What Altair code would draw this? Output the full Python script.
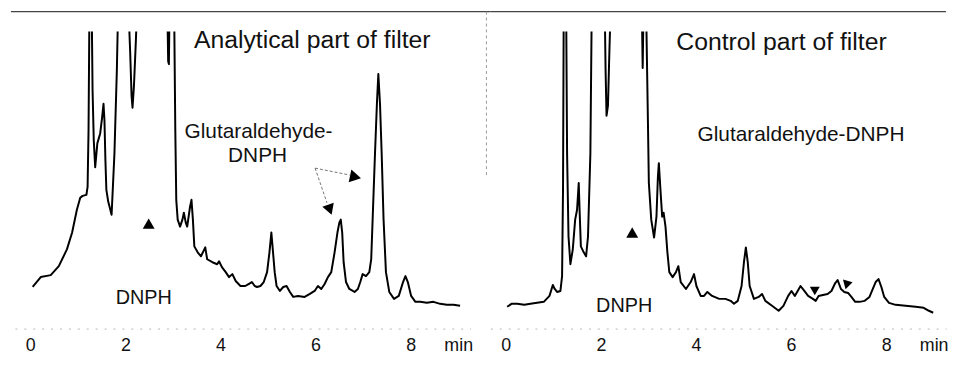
import altair as alt
import pandas as pd

# ---------------- data ----------------
# Analytical part of filter (time in min, detector response in arbitrary units;
# 330 = off scale, clipped at the top of the panel)
t_left = [0.05, 0.22, 0.43, 0.60, 0.77, 0.88, 0.98, 1.05, 1.10, 1.18, 1.205, 1.225, 1.245,
          1.29, 1.31, 1.335, 1.365, 1.41, 1.47, 1.51, 1.54, 1.56, 1.58, 1.60, 1.64, 1.71,
          1.77, 1.82, 1.85, 2.06, 2.10, 2.13, 2.15, 2.18, 2.22, 2.25, 2.88, 2.90, 2.915,
          2.93, 2.99, 3.03, 3.05, 3.07, 3.10, 3.15, 3.20, 3.23, 3.27, 3.30, 3.36, 3.39,
          3.42, 3.45, 3.52, 3.59, 3.68, 3.72, 3.83, 3.93, 3.97, 4.03, 4.11, 4.18, 4.25,
          4.32, 4.42, 4.52, 4.59, 4.66, 4.72, 4.77, 4.84, 4.91, 4.98, 5.03, 5.07, 5.10,
          5.14, 5.18, 5.25, 5.32, 5.39, 5.46, 5.53, 5.63, 5.77, 5.88, 5.98, 6.05, 6.12,
          6.19, 6.26, 6.33, 6.40, 6.46, 6.50, 6.53, 6.56, 6.59, 6.64, 6.71, 6.82, 6.89,
          6.94, 6.99, 7.06, 7.13, 7.17, 7.20, 7.25, 7.29, 7.32, 7.355, 7.39, 7.43, 7.48,
          7.55, 7.65, 7.75, 7.84, 7.89, 7.94, 8.01, 8.10, 8.20, 8.34, 8.48, 8.62, 8.76,
          8.90, 9.04]
v_left = [42, 52, 54, 63, 80, 97, 120, 132, 134, 135, 143, 200, 330,
          330, 240, 190, 163, 187, 197, 213, 227, 210, 170, 140, 128, 115,
          177, 260, 330, 330, 280, 235, 223, 245, 290, 330, 330, 270, 267,
          330, 330, 300, 200, 130, 110, 103, 110, 117, 107, 103, 123, 130,
          110, 83, 77, 73, 82, 70, 67, 65, 68, 62, 57, 52, 55,
          48, 43, 43, 45, 47, 43, 42, 43, 47, 57, 77, 97, 80,
          57, 43, 38, 42, 43, 37, 32, 33, 32, 35, 38, 43, 40,
          45, 52, 57, 77, 97, 107, 110, 97, 67, 47, 40, 37, 40,
          47, 55, 53, 57, 70, 110, 177, 227, 257, 227, 177, 110, 57,
          37, 30, 33, 47, 53, 47, 33, 27, 27, 26, 27, 25, 24,
          24, 23]

# Control part of filter
t_right = [0.03, 0.12, 0.24, 0.39, 0.52, 0.66, 0.80, 0.92, 0.99, 1.03, 1.08, 1.15, 1.185,
           1.205, 1.22, 1.27, 1.29, 1.32, 1.36, 1.41, 1.46, 1.50, 1.535, 1.555, 1.58, 1.64,
           1.69, 1.73, 1.78, 1.81, 2.08, 2.10, 2.12, 2.15, 2.18, 2.21, 2.86, 2.88, 2.90,
           2.95, 2.99, 3.01, 3.06, 3.12, 3.17, 3.20, 3.22, 3.25, 3.29, 3.32, 3.36, 3.40,
           3.44, 3.51, 3.58, 3.63, 3.68, 3.79, 3.89, 3.96, 4.01, 4.10, 4.17, 4.24, 4.34,
           4.49, 4.62, 4.73, 4.80, 4.88, 4.96, 5.01, 5.05, 5.09, 5.13, 5.22, 5.32, 5.39,
           5.46, 5.60, 5.74, 5.84, 5.94, 6.01, 6.08, 6.20, 6.28, 6.36, 6.46, 6.52, 6.58,
           6.67, 6.77, 6.85, 6.93, 6.98, 7.05, 7.12, 7.20, 7.27, 7.35, 7.44, 7.55, 7.65,
           7.72, 7.78, 7.84, 7.90, 7.96, 8.06, 8.20, 8.41, 8.62, 8.79, 8.90, 8.99]
v_right = [22, 25, 25, 24, 25, 26, 27, 33, 44, 40, 37, 38, 53,
           143, 330, 330, 177, 93, 65, 80, 110, 120, 147, 117, 83, 77,
           73, 93, 177, 330, 330, 260, 215, 225, 280, 330, 330, 263, 330,
           330, 210, 147, 110, 92, 113, 153, 167, 143, 113, 117, 103, 77,
           57, 52, 57, 63, 47, 40, 47, 55, 43, 33, 33, 37, 33,
           30, 30, 28, 25, 28, 43, 67, 82, 67, 43, 30, 32, 35,
           28, 23, 18, 23, 33, 38, 33, 43, 38, 33, 30, 28, 33,
           34, 35, 38, 46, 49, 40, 37, 36, 32, 27, 27, 28, 32,
           40, 47, 50, 42, 32, 26, 24, 23, 22, 21, 18, 16]

x_ticks = [0, 2, 4, 6, 8, 9]          # 9 carries the "min" unit label
x_domain = [-0.323, 9.26]
y_domain = [0, 300]

# annotations: (time, response, text, font size)
left_text_t = [5.93, 4.80, 4.78, 2.385]
left_text_v = [283.3, 192.7, 168.3, 25]
left_text = ["Analytical part of filter", "Glutaraldehyde-", "DNPH", "DNPH"]
left_text_fs = [25, 21, 21, 20]

right_text_t = [5.80, 6.21, 2.49]
right_text_v = [281.7, 189.3, 17]
right_text = ["Control part of filter", "Glutaraldehyde-DNPH", "DNPH"]
right_text_fs = [25, 21, 20]

# markers: (time, response, shape, angle, size)
left_mk_t = [2.49, 6.84, 6.30]
left_mk_v = [106, 153, 120]
left_mk_shape = ["triangle-up", "triangle-right", "triangle-down"]
left_mk_angle = [0, 12, 340]
left_mk_size = [144, 170, 150]

right_mk_t = [2.66, 6.50, 7.17]
right_mk_v = [97, 38, 44]
right_mk_shape = ["triangle-up", "triangle-down", "triangle-down"]
right_mk_angle = [0, 0, 15]
right_mk_size = [144, 100, 100]

# dotted arrow shafts in the analytical panel
arrow_t = [5.99, 5.99]
arrow_v = [162, 162]
arrow_t2 = [6.72, 6.24]
arrow_v2 = [155, 127]

FONT = "Liberation Sans"
W, H = 460, 300

xs = alt.Scale(domain=x_domain, nice=False, zero=False)
ys = alt.Scale(domain=y_domain, nice=False, zero=False)
xaxis = alt.Axis(values=x_ticks, labelExpr="datum.value == 9 ? 'min' : datum.label",
                 ticks=False, tickSize=0, grid=False, domain=True,
                 domainColor="#b5b5b5", domainDash=[2, 7], domainWidth=1,
                 labelFontSize=18, labelPadding=8, labelFlush=False,
                 labelOverlap=False, labelColor="#111", labelFont=FONT, title=None)
X = alt.X("t:Q", scale=xs, axis=xaxis)
Y = alt.Y("v:Q", scale=ys, axis=None)


def panel(t, v, tt, tv, txt, tfs, mt, mv, msh, man, msz, frame_x2, extra=None):
    line = alt.Chart(pd.DataFrame({"t": t, "v": v})).mark_line(
        color="#000", strokeWidth=2.0, clip=True, strokeJoin="round").encode(x=X, y=Y)
    texts = alt.Chart(pd.DataFrame({"t": tt, "v": tv, "txt": txt, "fs": tfs})).mark_text(
        align="center", baseline="alphabetic", color="#111", font=FONT).encode(
        x=X, y=Y, text="txt:N", size=alt.Size("fs:Q", scale=None))
    marks = alt.Chart(pd.DataFrame({"t": mt, "v": mv, "sh": msh, "an": man, "sz": msz})).mark_point(
        filled=True, opacity=1, color="#000", strokeWidth=0).encode(
        x=X, y=Y, shape=alt.Shape("sh:N", scale=None), angle=alt.Angle("an:Q", scale=None),
        size=alt.Size("sz:Q", scale=None))
    frame = alt.Chart(pd.DataFrame({"k": [0]})).mark_rule(color="#444", strokeWidth=1.3).encode(
        x=alt.value(-4 if frame_x2 > W else 0), x2=alt.value(frame_x2), y=alt.value(-20))
    layers = [frame, line, texts, marks]
    if extra is not None:
        layers += extra
    return alt.layer(*layers).properties(width=W, height=H)


arrows = alt.Chart(pd.DataFrame({"t": arrow_t, "v": arrow_v, "t2": arrow_t2, "v2": arrow_v2})).mark_rule(
    color="#666", strokeWidth=0.9, strokeDash=[3, 2]).encode(
    x=X, y=Y, x2=alt.X2("t2:Q"), y2=alt.Y2("v2:Q"))

vline = alt.Chart(pd.DataFrame({"k": [0]})).mark_rule(
    color="#999", strokeWidth=1, strokeDash=[3, 3]).encode(
    x=alt.value(-4), y=alt.value(-20), y2=alt.value(147))

left = panel(t_left, v_left, left_text_t, left_text_v, left_text, left_text_fs,
             left_mk_t, left_mk_v, left_mk_shape, left_mk_angle, left_mk_size,
             W + 20, extra=[arrows])
right = panel(t_right, v_right, right_text_t, right_text_v, right_text, right_text_fs,
              right_mk_t, right_mk_v, right_mk_shape, right_mk_angle, right_mk_size,
              W, extra=[vline])

chart = alt.hconcat(left, right, spacing=20, bounds="flush").properties(
    padding={"left": 2, "top": 1, "right": 0, "bottom": 0},
    background="white",
).configure(font=FONT).configure_view(stroke=None, strokeWidth=0)

chart.save("out.html", embed_options={"renderer": "svg", "actions": False})
